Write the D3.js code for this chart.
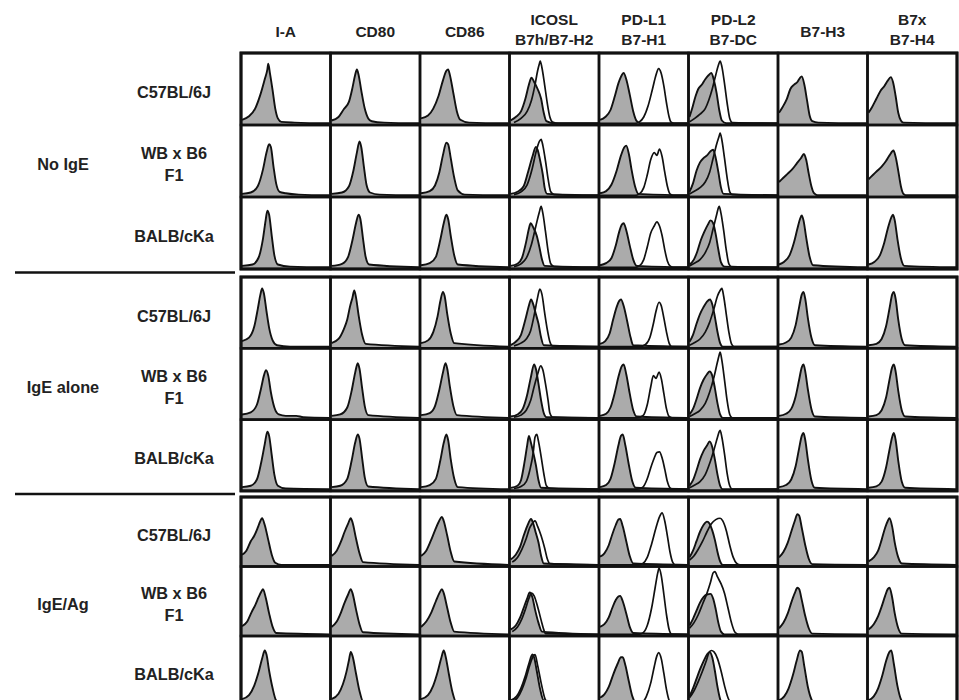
<!DOCTYPE html>
<html>
<head>
<meta charset="utf-8">
<script src="https://cdn.jsdelivr.net/npm/d3@7"></script>
<style>
  body { margin: 0; background: #fff; }
  text { font-family: "Liberation Sans", Arial, Helvetica, sans-serif; font-weight: bold; fill: #222; }
</style>
</head>
<body>
<svg id="chart" width="959" height="700"></svg>
<script>
// column headers (markers), row labels (strains), row groups (conditions)
const markers = ['I-A', 'CD80', 'CD86', 'ICOSL', 'PD-L1', 'PD-L2', 'B7-H3', 'B7x']
const headerLines = [['I-A'], ['CD80'], ['CD86'], ['ICOSL', 'B7h/B7-H2'], ['PD-L1', 'B7-H1'], ['PD-L2', 'B7-DC'], ['B7-H3'], ['B7x', 'B7-H4']]
const strains = [['C57BL/6J'], ['WB x B6', 'F1'], ['BALB/cKa']]
const conditions = ['No IgE', 'IgE alone', 'IgE/Ag']

// histograms: [channel %, count % of panel height], filled = control, open = stain
const isoNoIgE = [
  [
    [[0,6],[8,11],[15,22],[21,42],[26,64],[29,78],[30,86],[32,72],[35,48],[38,22],[41,8],[45,3],[60,2],[100,1]],
    [[0,5],[8,10],[14,21],[20,32],[24,52],[27,70],[29,78],[31,70],[34,48],[38,22],[42,8],[46,4],[60,2],[100,1]],
    [[0,8],[8,12],[14,22],[20,40],[25,62],[29,76],[31,78],[33,70],[37,44],[41,18],[45,6],[55,2],[100,1]],
    [[0,5],[6,10],[12,18],[17,36],[21,56],[24,66],[27,60],[31,50],[35,36],[38,16],[41,4],[50,1],[100,1]],
    [[0,6],[6,10],[12,20],[17,40],[21,58],[25,70],[27,73],[30,64],[34,42],[38,18],[42,4],[46,1],[100,1]],
    [[0,10],[3,22],[7,40],[10,50],[14,56],[18,64],[22,70],[25,73],[28,62],[31,44],[34,20],[37,5],[42,1],[100,1]],
    [[0,16],[4,24],[9,36],[13,50],[17,56],[21,60],[24,66],[26,68],[29,56],[32,34],[35,12],[38,4],[45,2],[100,1]],
    [[0,16],[4,24],[9,36],[14,48],[18,54],[22,62],[25.5,67],[28,60],[31,40],[34,16],[37,5],[40,2],[100,1]]
  ],
  [
    [[0,3],[10,5],[18,14],[24,38],[28,62],[31,74],[33,70],[36,42],[39,18],[43,6],[50,4],[65,2],[100,1]],
    [[0,3],[12,5],[20,14],[25,36],[29,62],[32,78],[34,70],[37,42],[40,16],[44,5],[55,2],[100,1]],
    [[0,4],[10,7],[16,15],[21,34],[25,58],[29,76],[31,74],[34,54],[38,26],[42,8],[50,2],[100,1]],
    [[0,3],[8,6],[15,14],[20,34],[25,56],[29,70],[31,66],[34,50],[37,30],[39,12],[42,3],[100,1]],
    [[0,4],[7,7],[13,16],[19,36],[24,58],[28,70],[30,72],[33,60],[36,38],[40,14],[44,3],[100,1]],
    [[0,6],[4,18],[8,36],[12,48],[16,54],[20,58],[24,64],[27,66],[30,54],[33,34],[36,12],[39,3],[100,1]],
    [[0,20],[5,26],[10,32],[15,38],[20,46],[25,54],[28.5,60],[31,52],[34,32],[37,14],[40,4],[44,1],[100,1]],
    [[0,24],[5,30],[10,36],[15,42],[20,50],[24,58],[28.5,65],[31,56],[34,36],[37,14],[40,3],[44,1],[100,1]]
  ],
  [
    [[0,3],[12,5],[19,15],[24,42],[27,68],[29,82],[31,76],[34,46],[37,18],[41,5],[55,2],[100,1]],
    [[0,3],[12,6],[19,16],[24,40],[28,64],[31,76],[33,70],[36,42],[39,16],[43,5],[100,1]],
    [[0,4],[10,7],[17,16],[22,40],[26,64],[29,76],[31,70],[34,46],[38,18],[42,5],[100,1]],
    [[0,3],[8,6],[13,14],[18,38],[21,56],[23,64],[26,58],[30,46],[33,30],[36,12],[39,3],[100,1]],
    [[0,4],[7,7],[13,14],[18,32],[22,52],[25,62],[27,64],[30,54],[34,32],[38,12],[42,3],[100,1]],
    [[0,5],[5,12],[9,24],[13,40],[17,52],[21,62],[24,68],[27,64],[30,48],[33,26],[36,8],[40,2],[100,1]],
    [[0,5],[6,9],[12,18],[17,36],[21,56],[24,70],[26,75],[28,68],[31,44],[35,16],[39,4],[100,1]],
    [[0,5],[7,9],[13,18],[18,36],[22,56],[26,72],[28,76],[30,68],[33,42],[37,14],[41,3],[100,1]]
  ]
]

const isoIgE = [
  [
    [[0,9],[8,14],[14,30],[18,55],[21,76],[23,85],[25,78],[28,52],[31,28],[35,10],[40,3],[55,1],[100,1]],
    [[0,6],[8,12],[14,26],[18,40],[21,58],[24,72],[26,82],[28,72],[31,46],[35,18],[39,5],[100,1]],
    [[0,6],[8,10],[14,22],[19,45],[22,66],[25,80],[27,74],[30,48],[34,20],[38,6],[100,1]],
    [[0,3],[6,8],[12,18],[17,40],[21,60],[23.5,69],[26,62],[29,48],[32,34],[35,14],[38,3],[100,1]],
    [[0,5],[6,9],[11,20],[15,40],[19,58],[22,67],[24,69],[27,60],[31,38],[35,14],[38,3],[100,1]],
    [[0,8],[4,18],[8,34],[12,48],[16,58],[20,66],[23.5,69],[26,62],[29,44],[32,22],[35,6],[38,1],[100,1]],
    [[0,4],[8,7],[14,14],[19,32],[23,58],[26,76],[28,80],[30,70],[33,42],[37,14],[41,3],[100,1]],
    [[0,3],[9,5],[15,12],[20,30],[24,56],[27,76],[29,80],[31,70],[34,40],[38,12],[42,3],[100,1]]
  ],
  [
    [[0,6],[10,9],[17,20],[22,45],[25,62],[27.5,70],[30,62],[33,38],[37,16],[42,6],[50,4],[62,4],[70,2],[100,1]],
    [[0,4],[10,6],[18,16],[23,40],[27,66],[30,80],[32,72],[35,44],[38,18],[42,5],[100,1]],
    [[0,5],[10,8],[16,18],[21,42],[25,66],[28,80],[30,72],[33,46],[37,18],[41,5],[100,1]],
    [[0,3],[8,6],[14,14],[19,34],[23,58],[27,78],[29,72],[32,50],[35,26],[38,8],[41,2],[100,1]],
    [[0,4],[7,7],[12,16],[17,38],[21,60],[25,76],[27,78],[30,64],[34,36],[38,12],[42,3],[100,1]],
    [[0,6],[4,14],[8,28],[12,44],[16,56],[20,64],[23,68],[26,62],[29,44],[32,22],[35,6],[38,1],[100,1]],
    [[0,4],[8,7],[14,14],[19,32],[23,56],[26,74],[28,78],[30,68],[33,42],[37,14],[41,3],[100,1]],
    [[0,3],[9,5],[15,12],[20,30],[24,56],[27,74],[29,78],[31,68],[34,40],[38,12],[42,3],[100,1]]
  ],
  [
    [[0,4],[10,6],[17,15],[22,40],[26,66],[29,84],[31,78],[34,50],[37,22],[41,6],[50,2],[100,1]],
    [[0,4],[10,6],[18,16],[23,42],[27,68],[30,80],[32,74],[35,46],[38,18],[42,5],[100,1]],
    [[0,4],[10,7],[17,16],[22,42],[26,68],[29,80],[31,72],[34,44],[38,16],[42,4],[100,1]],
    [[0,3],[8,6],[12,14],[16,40],[19,64],[21,78],[23,70],[26,54],[29,36],[32,14],[35,3],[100,1]],
    [[0,4],[7,7],[12,16],[17,40],[21,64],[24,78],[26,80],[29,64],[33,36],[37,12],[41,3],[100,1]],
    [[0,6],[4,14],[8,28],[12,44],[16,56],[20,64],[23,70],[26,62],[29,44],[32,22],[35,6],[38,1],[100,1]],
    [[0,4],[8,7],[14,15],[19,34],[23,60],[26,78],[28,82],[30,72],[33,44],[37,14],[41,3],[100,1]],
    [[0,3],[9,5],[15,12],[20,32],[24,58],[27,76],[29,82],[31,72],[34,42],[38,12],[42,3],[100,1]]
  ]
]

const isoIgEAg = [
  [
    [[0,16],[5,22],[10,36],[14,44],[18,56],[21,66],[23,70],[26,60],[30,38],[34,16],[38,4],[45,1],[100,1]],
    [[0,14],[6,22],[11,36],[15,50],[19,62],[22,70],[24,64],[28,40],[32,18],[36,5],[100,1]],
    [[0,14],[6,22],[11,36],[16,52],[20,64],[24,72],[26,66],[30,44],[34,20],[38,6],[100,1]],
    [[0,9],[6,16],[11,28],[15,44],[19,58],[23.5,69],[26,62],[29,48],[32,34],[35,14],[38,3],[100,1]],
    [[0,13],[5,18],[10,30],[14,46],[18,60],[21,68],[23,69],[26,58],[30,36],[34,14],[38,3],[100,1]],
    [[0,12],[4,22],[8,36],[12,50],[16,60],[20,65],[23,62],[26,52],[29,38],[32,20],[35,6],[38,1],[100,1]],
    [[0,12],[5,20],[10,34],[14,50],[18,66],[21,76],[23,74],[26,56],[30,30],[34,10],[38,2],[100,1]],
    [[0,6],[6,12],[11,22],[15,38],[19,56],[22,66],[24,70],[27,58],[30,34],[34,12],[38,3],[100,1]]
  ],
  [
    [[0,13],[6,20],[11,34],[15,44],[19,56],[22,64],[24,68],[27,56],[31,32],[35,12],[39,3],[100,1]],
    [[0,12],[6,20],[11,34],[15,48],[19,60],[22,68],[24,62],[28,38],[32,16],[36,4],[100,1]],
    [[0,12],[6,20],[12,34],[17,50],[21,62],[24,68],[26,62],[30,40],[34,18],[38,5],[100,1]],
    [[0,8],[6,14],[11,26],[15,40],[19,54],[22,63],[25,56],[28,38],[32,18],[36,5],[100,1]],
    [[0,12],[5,16],[10,26],[14,40],[18,52],[21,57],[23,58],[26,50],[30,32],[34,12],[38,3],[100,1]],
    [[0,14],[4,24],[8,36],[12,48],[16,56],[20,60],[24,61],[27,54],[30,38],[33,18],[36,5],[40,1],[100,1]],
    [[0,10],[5,18],[10,32],[14,48],[18,62],[21,70],[23,68],[26,52],[30,28],[34,10],[38,2],[100,1]],
    [[0,8],[6,16],[11,28],[15,42],[19,58],[22,68],[24,70],[27,56],[30,32],[34,10],[38,2],[100,1]]
  ],
  [
    [[0,8],[8,14],[14,28],[19,48],[23,68],[26,80],[28,74],[31,50],[35,24],[39,6],[45,1],[100,1]],
    [[0,8],[8,16],[13,30],[17,48],[20,66],[22,78],[24,72],[28,46],[32,20],[36,5],[100,1]],
    [[0,8],[8,14],[14,28],[19,48],[23,68],[26,80],[28,72],[32,44],[36,18],[40,4],[100,1]],
    [[0,6],[7,12],[12,24],[17,42],[21,60],[25,74],[27,70],[30,50],[34,22],[38,6],[100,1]],
    [[0,10],[5,15],[10,26],[15,44],[20,60],[24,70],[26,70],[29,58],[33,34],[37,12],[41,3],[100,1]],
    [[0,12],[4,24],[8,38],[12,52],[16,64],[20,74],[23,78],[26,70],[29,50],[32,26],[35,8],[38,1],[100,1]],
    [[0,6],[6,12],[11,24],[16,44],[20,64],[24,80],[26,78],[29,56],[33,26],[37,8],[41,2],[100,1]],
    [[0,6],[6,12],[11,24],[16,44],[20,64],[24,78],[26,80],[29,60],[33,28],[37,8],[41,2],[100,1]]
  ]
]

// open histograms, only ICOSL / PD-L1 / PD-L2 separate from the control
const stainNoIgE = [
  [null, null, null,
    [[4,2],[12,8],[19,18],[24,34],[28,56],[31,76],[33,86],[34,90],[36,80],[39,56],[42,30],[45,10],[48,3],[55,1],[100,1]],
    [[0,1],[40,1],[45,3],[50,10],[55,26],[60,50],[64,70],[67,79],[70,72],[73,54],[76,30],[79,10],[81,3],[85,1],[100,1]],
    [[0,3],[6,8],[12,14],[18,22],[22,34],[26,50],[30,70],[33,84],[35,90],[37,82],[40,58],[43,30],[46,8],[49,2],[100,1]],
    null, null],
  [null, null, null,
    [[4,2],[12,6],[19,16],[25,40],[29,62],[33,78],[35,81],[37,72],[40,50],[43,24],[46,6],[50,2],[100,1]],
    [[0,1],[40,1],[45,3],[50,12],[54,30],[58,52],[62,62],[65,58],[68,67],[71,56],[74,34],[77,14],[80,3],[84,1],[100,1]],
    [[0,3],[6,7],[12,12],[18,20],[23,34],[27,54],[31,74],[34,86],[35,90],[37,80],[40,54],[43,26],[46,6],[49,2],[100,1]],
    null, null],
  [null, null, null,
    [[4,2],[12,6],[18,14],[24,34],[29,60],[33,80],[35,88],[37,78],[40,52],[43,24],[46,6],[50,2],[100,1]],
    [[0,1],[40,1],[45,3],[50,12],[54,30],[58,50],[62,60],[65,66],[68,60],[71,46],[74,26],[77,10],[80,3],[84,1],[100,1]],
    [[0,3],[6,7],[12,12],[18,22],[23,36],[27,56],[31,76],[33,86],[34,88],[36,78],[39,54],[42,26],[45,6],[48,2],[100,1]],
    null, null]
]

const stainIgE = [
  [null, null, null,
    [[4,2],[12,6],[18,12],[23,24],[27,46],[31,72],[33.5,84],[36,76],[39,50],[42,26],[45,8],[48,2],[100,1]],
    [[0,1],[45,1],[52,4],[57,14],[61,34],[64,52],[67.5,65],[70,60],[73,42],[76,22],[79,6],[82,1],[100,1]],
    [[0,3],[6,7],[12,12],[18,22],[23,36],[28,56],[32,74],[35,82],[37,85],[39,74],[42,48],[45,22],[48,5],[51,1],[100,1]],
    null, null],
  [null, null, null,
    [[4,2],[12,5],[18,12],[23,26],[27,46],[31,64],[34.5,76],[37,70],[40,50],[43,26],[45,8],[48,2],[100,1]],
    [[0,1],[42,1],[49,4],[54,20],[58,46],[61,62],[64,58],[67.5,67],[70,58],[73,36],[76,14],[79,3],[83,1],[100,1]],
    [[0,3],[6,7],[12,12],[18,22],[23,38],[28,60],[32,82],[34,92],[35,96],[37,84],[40,56],[43,26],[46,6],[49,1],[100,1]],
    null, null],
  [null, null, null,
    [[4,2],[12,5],[18,12],[22,28],[26,54],[28,76],[30,80],[32,70],[35,48],[38,24],[41,6],[45,2],[100,1]],
    [[0,1],[42,1],[49,4],[54,16],[58,32],[62,46],[65,54],[68,55],[71,46],[74,30],[77,12],[80,3],[84,1],[100,1]],
    [[0,3],[6,7],[12,12],[18,22],[23,38],[28,58],[32,76],[34,84],[35,86],[37,76],[40,52],[43,24],[46,6],[49,1],[100,1]],
    null, null]
]

const stainIgEAg = [
  [null, null, null,
    [[2,5],[8,12],[13,24],[18,40],[22,56],[26,64],[28,66],[31,58],[35,44],[39,26],[42,10],[45,3],[100,1]],
    [[0,1],[44,1],[49,3],[54,12],[59,32],[64,56],[68,72],[71,78],[74,66],[77,44],[80,20],[83,5],[86,1],[100,1]],
    [[0,8],[5,14],[10,24],[15,36],[20,50],[25,62],[30,68],[35,70],[38,66],[42,52],[46,30],[50,12],[54,3],[58,1],[100,1]],
    null, null],
  [null, null, null,
    [[2,5],[8,12],[13,24],[17,38],[21,54],[24,62],[27,58],[31,42],[35,22],[38,8],[40,2],[100,1]],
    [[0,1],[44,1],[49,3],[54,14],[59,40],[63,70],[66,92],[67.5,99],[70,88],[73,60],[76,30],[79,8],[82,1],[100,1]],
    [[0,10],[5,18],[10,30],[15,46],[20,62],[24,78],[27,92],[29,94],[32,86],[36,76],[40,62],[44,40],[48,18],[52,4],[56,1],[100,1]],
    null, null],
  [null, null, null,
    [[2,4],[8,10],[13,22],[18,40],[22,58],[26,72],[28,74],[31,58],[35,32],[39,10],[42,2],[100,1]],
    [[0,1],[42,1],[48,3],[53,12],[58,32],[62,56],[65,72],[67,77],[70,68],[73,46],[76,22],[79,6],[82,1],[100,1]],
    [[0,10],[5,20],[10,34],[15,50],[19,64],[22,76],[25,80],[28,78],[32,68],[36,50],[40,28],[44,10],[48,2],[100,1]],
    null, null]
]

const isotype = [isoNoIgE, isoIgE, isoIgEAg]
const stained = [stainNoIgE, stainIgE, stainIgEAg]

// layout
const ud = {
  left: 241, right: 957,
  groupTop: [53, 277, 497],
  rowH: [72, 71.3, 69.5],
  rowLabelX: 174,
  groupLabelX: 63,
  fs: 16.3,
}

const svg = d3.select('#chart')
const x = d3.scaleBand().domain(markers).range([ud.left, ud.right])

// column headers
markers.forEach((m, i) => {
  const lines = headerLines[i]
  const cx = x(m) + x.bandwidth() / 2
  const ys = lines.length === 1 ? [31] : [19, 39.5]
  lines.forEach((t, k) => {
    svg.append('text')
      .attr('x', cx).attr('y', ys[k])
      .attr('text-anchor', 'middle')
      .attr('dominant-baseline', 'central')
      .style('font-size', (ud.fs - 0.8) + 'px')
      .text(t)
  })
})

const defs = svg.append('defs')
let clipId = 0

conditions.forEach((cond, g) => {
  const top = ud.groupTop[g]
  const y = d3.scaleBand().domain(d3.range(strains.length)).range([top, top + strains.length * ud.rowH[g]])

  // group label
  svg.append('text')
    .attr('x', ud.groupLabelX)
    .attr('y', top + strains.length * ud.rowH[g] / 2 + 3)
    .attr('text-anchor', 'middle')
    .attr('dominant-baseline', 'central')
    .style('font-size', ud.fs + 'px')
    .text(cond)

  strains.forEach((lines, r) => {
    const cy = y(r) + y.bandwidth() / 2 + 3
    lines.forEach((t, k) => {
      svg.append('text')
        .attr('x', ud.rowLabelX)
        .attr('y', cy + (k - (lines.length - 1) / 2) * 22)
        .attr('text-anchor', 'middle')
        .attr('dominant-baseline', 'central')
        .style('font-size', ud.fs + 'px')
        .text(t)
    })

    markers.forEach((m, c) => {
      const x0 = x(m), y0 = y(r), bw = x.bandwidth(), bh = y.bandwidth()
      const px = d3.scaleLinear().domain([0, 100]).range([x0 + 1, x0 + bw - 1])
      const py = d3.scaleLinear().domain([0, 100]).range([y0 + bh - 1, y0 + 1])
      const id = 'clip' + (clipId++)
      defs.append('clipPath').attr('id', id)
        .append('rect').attr('x', x0).attr('y', y0).attr('width', bw).attr('height', bh)

      const panel = svg.append('g').attr('clip-path', `url(#${id})`)
      const area = d3.area().x(d => px(d[0])).y0(py(0)).y1(d => py(d[1])).curve(d3.curveMonotoneX)
      const line = d3.line().x(d => px(d[0])).y(d => py(d[1])).curve(d3.curveMonotoneX)

      const iso = isotype[g][r][c]
      panel.append('path').attr('d', area(iso)).style('fill', '#ababab')
      const st = stained[g][r][c]
      if (st) {
        panel.append('path').attr('d', line(st))
          .style('fill', 'none').style('stroke', '#111').style('stroke-width', 1.7)
          .style('stroke-linejoin', 'round')
      }
      panel.append('path').attr('d', line(iso))
        .style('fill', 'none').style('stroke', '#111').style('stroke-width', 1.9)
        .style('stroke-linejoin', 'round')

      svg.append('rect')
        .attr('x', x0).attr('y', y0).attr('width', bw).attr('height', bh)
        .style('fill', 'none').style('stroke', '#111').style('stroke-width', 2.5)
    })
  })

  // outer frame of the group
  svg.append('rect')
    .attr('x', ud.left).attr('y', top)
    .attr('width', ud.right - ud.left).attr('height', strains.length * ud.rowH[g])
    .style('fill', 'none').style('stroke', '#111').style('stroke-width', 3)
})

// separators between condition groups
const sepY = [272.5, 494]
sepY.forEach(sy => {
  svg.append('line')
    .attr('x1', 15).attr('x2', 235).attr('y1', sy).attr('y2', sy)
    .style('stroke', '#111').style('stroke-width', 2.5)
})
</script>
</body>
</html>
